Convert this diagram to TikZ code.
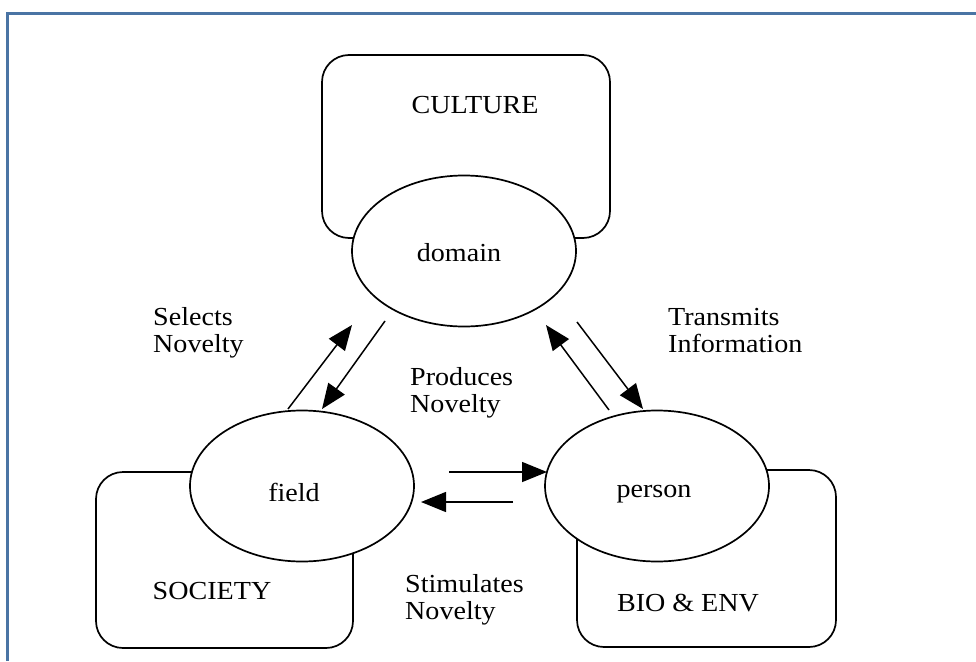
\documentclass[tikz,border=0pt]{standalone}
\usepackage{fontspec}
\setmainfont{Liberation Serif}[FakeStretch=1.08]
\usetikzlibrary{arrows.meta,shapes.geometric}
\definecolor{frameblue}{RGB}{74,116,164}
\begin{document}
\begin{tikzpicture}[x=1pt,y=-1pt,
  every node/.style={font=\fontsize{26}{27}\selectfont},
  oval/.style={ellipse,draw,fill=white,line width=1.7pt,minimum width=224pt,minimum height=151pt,inner sep=0pt},
  realm/.style={draw,line width=1.7pt,rounded corners=27pt},
  flow/.style={line width=1.5pt,-{Triangle[length=25pt,width=20pt]}},
  lbl/.style={align=left,anchor=west,inner sep=0pt}]
\useasboundingbox (0,0) rectangle (976,661);
\fill[white] (0,0) rectangle (976,661);
\draw[frameblue,line width=3pt] (7.5,661) -- (7.5,13.5) -- (976,13.5);

% realm boxes
\draw[realm] (322,238) rectangle (610,55);
\draw[realm] (96,472) rectangle (353,648);
\draw[realm] (577,470) rectangle (836,647);

% systems
\node[oval] (domain) at (464,251) {};
\node[oval] (field) at (302,486) {};
\node[oval] (person) at (657,486) {};
\node[inner sep=0pt] (domaintext) at (459,253) {domain};
\node[inner sep=0pt] (fieldtext) at (294,492) {field};
\node[inner sep=0pt] (persontext) at (654,494) {person};

% realm names
\node[inner sep=0pt] (culture) at (475,105) {CULTURE};
\node[inner sep=0pt] (society) at (212,591) {SOCIETY};
\node[inner sep=0pt] (bioenv) at (688,603) {BIO \& ENV};

% connector ends
\coordinate (fdA) at (288,409);
\coordinate (fdB) at (352,325);
\coordinate (dfA) at (385,321);
\coordinate (dfB) at (322,409);
\coordinate (pdA) at (609,410);
\coordinate (pdB) at (546,325);
\coordinate (dpA) at (577,322);
\coordinate (dpB) at (643,409);
\coordinate (fpA) at (449,472);
\coordinate (fpB) at (547,472);
\coordinate (pfA) at (513,502);
\coordinate (pfB) at (421,502);

\draw[flow] (fdA) -- (fdB);
\draw[flow] (dfA) -- (dfB);
\draw[flow] (pdA) -- (pdB);
\draw[flow] (dpA) -- (dpB);
\draw[flow] (fpA) -- (fpB);
\draw[flow] (pfA) -- (pfB);

% labels
\node[lbl] (selects) at (153,333) {Selects\\Novelty};
\node[lbl] (transmits) at (668,331) {Transmits\\Information};
\node[lbl] (produces) at (410,393) {Produces\\Novelty};
\node[lbl] (stimulates) at (405,600) {Stimulates\\Novelty};
\end{tikzpicture}
\end{document}
